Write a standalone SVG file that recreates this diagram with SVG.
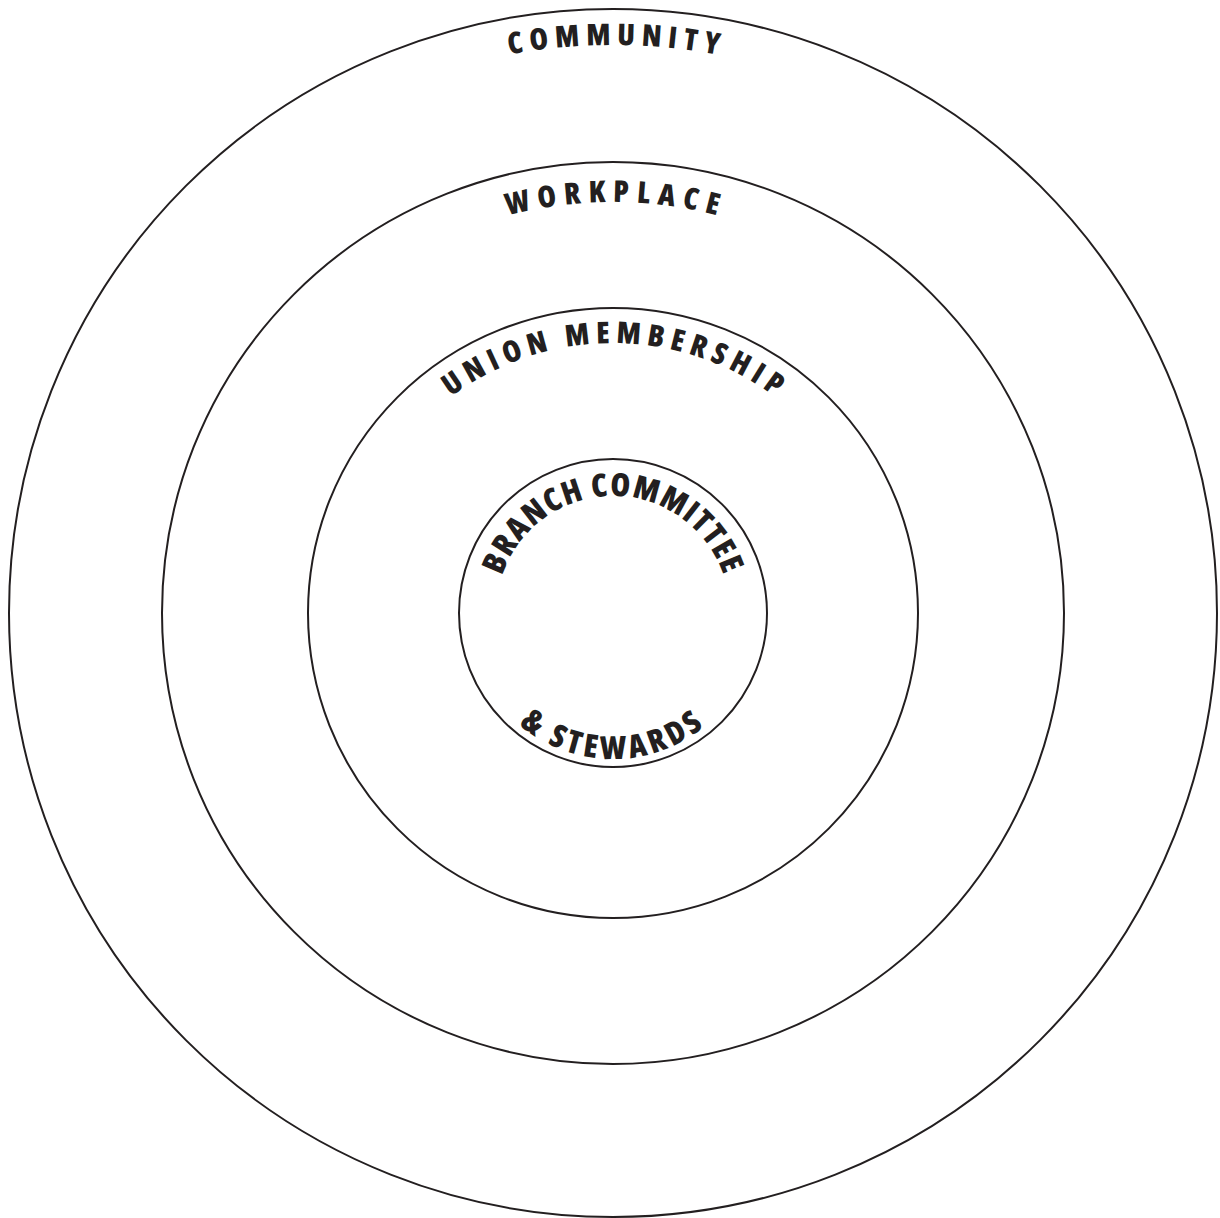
<svg xmlns="http://www.w3.org/2000/svg" width="1220" height="1218" viewBox="0 0 1220 1218">
<style>
.ring{fill:none;stroke:#231f20;stroke-width:2}
.lbl{font-family:"Open Sans","DejaVu Sans","Liberation Sans",sans-serif;font-stretch:75%;font-weight:800;fill:#231f20;text-anchor:middle}
</style>
<defs>
<path id="pCommunity" d="M45,613 A568,568 0 0 1 1181,613"/>
<path id="pWorkplace" d="M202,613 A411,411 0 0 1 1024,613"/>
<path id="pUnion" d="M343,613 A270,270 0 0 1 883,613"/>
<path id="pBranch" d="M496,613 A117,117 0 0 1 730,613"/>
<path id="pStewards" d="M467,613 A146,146 0 0 0 759,613"/>
</defs>
<rect width="1220" height="1218" fill="#fff"/>
<g id="community">
<circle class="ring" cx="613" cy="613" r="604"/>
<text class="lbl" font-size="30" letter-spacing="6.5" transform="rotate(0.4 613 613)"><textPath href="#pCommunity" startOffset="50%">COMMUNITY</textPath></text>
</g>
<g id="workplace">
<circle class="ring" cx="613" cy="613" r="451"/>
<text class="lbl" font-size="30" letter-spacing="7.7" transform="rotate(0.45 613 613)"><textPath href="#pWorkplace" startOffset="50%">WORKPLACE</textPath></text>
</g>
<g id="union-membership">
<circle class="ring" cx="613" cy="613" r="305"/>
<text class="lbl" font-size="30" letter-spacing="6.2" transform="rotate(0.6 613 613)"><textPath href="#pUnion" startOffset="50%">UNION MEMBERSHIP</textPath></text>
</g>
<g id="branch-committee">
<circle class="ring" cx="613" cy="613" r="154"/>
<text class="lbl" font-size="32" letter-spacing="1.3"><textPath href="#pBranch" startOffset="50%">BRANCH COMMITTEE</textPath></text>
<text class="lbl" font-size="32" letter-spacing="4"><textPath href="#pStewards" startOffset="50%">&amp; STEWARDS</textPath></text>
</g>
<g id="connectors"/>
</svg>
